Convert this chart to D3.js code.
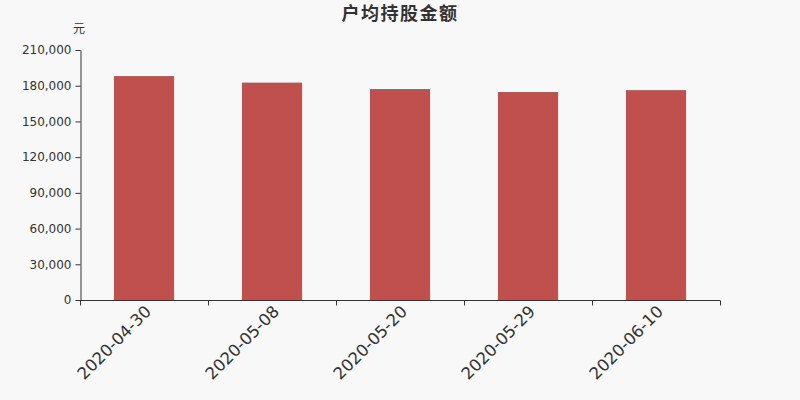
<!DOCTYPE html>
<html><head><meta charset="utf-8">
<script src="https://cdn.jsdelivr.net/npm/d3@7"></script>
<style>html,body{margin:0;padding:0;background:#f8f8f8;}svg{display:block;font-family:"DejaVu Sans",sans-serif;}</style>
</head><body>
<svg id="c" width="800" height="400"></svg>
<script>
const categories = ["2020-04-30","2020-05-08","2020-05-20","2020-05-29","2020-06-10"];
const values = [188100, 182600, 177200, 174700, 176300];
const yTicks = [0,30000,60000,90000,120000,150000,180000,210000];
const title = "户均持股金额";
const unit = "元";

(function(){
const svg = d3.select("#c");
svg.append("rect").attr("width",800).attr("height",400).attr("fill","#f8f8f8");
const mLeft=80, mRight=720, mTop=50, mBottom=300;
const x = d3.scaleBand().domain(categories).range([mLeft,mRight]).paddingInner(0.53).paddingOuter(0.265);
const y = d3.scaleLinear().domain([0,210000]).range([mBottom,mTop]);

svg.append("g").selectAll("rect").data(values).join("rect")
  .attr("x",(d,i)=>x(categories[i]))
  .attr("width",x.bandwidth())
  .attr("y",d=>y(d))
  .attr("height",d=>mBottom-y(d))
  .attr("fill","#c0504d");

const fmt = d3.format(",");
const ya = svg.append("g").attr("transform",`translate(${mLeft+0.5},0)`)
  .call(d3.axisLeft(y).tickValues(yTicks).tickFormat(fmt).tickSize(5).tickPadding(4).tickSizeOuter(0));
ya.select(".domain").attr("stroke","#333");
ya.selectAll(".tick line").attr("stroke","#333");
ya.selectAll("text").attr("fill","#333").attr("font-size",12).attr("font-family","DejaVu Sans");

const bx = d3.scalePoint().domain(d3.range(categories.length+1)).range([mLeft,mRight]);
const xa = svg.append("g").attr("transform",`translate(0,${mBottom+0.5})`);
xa.append("line").attr("x1",mLeft).attr("x2",mRight).attr("stroke","#333");
xa.selectAll("line.t").data(d3.range(categories.length+1)).join("line").attr("class","t")
  .attr("x1",d=>bx(d)+0.5).attr("x2",d=>bx(d)+0.5).attr("y1",0).attr("y2",5).attr("stroke","#333");
xa.selectAll("text").data(categories).join("text")
  .attr("transform",d=>`translate(${x(d)+x.bandwidth()/2},${4}) rotate(-45)`)
  .attr("text-anchor","end").attr("dy","0.7em")
  .attr("font-size",16.5).attr("fill","#333").text(d=>d);

svg.append("text").attr("x",400).attr("y",20).attr("text-anchor","middle")
  .attr("font-size",18).attr("font-weight","bold").attr("letter-spacing",1.5).attr("fill","#333")
  .attr("font-family","'Noto Sans CJK SC',sans-serif").text(title);
svg.append("text").attr("x",79).attr("y",33).attr("text-anchor","middle")
  .attr("font-size",12).attr("fill","#333").attr("font-family","'Noto Sans CJK SC',sans-serif").text(unit);
})();
</script>
</body></html>
